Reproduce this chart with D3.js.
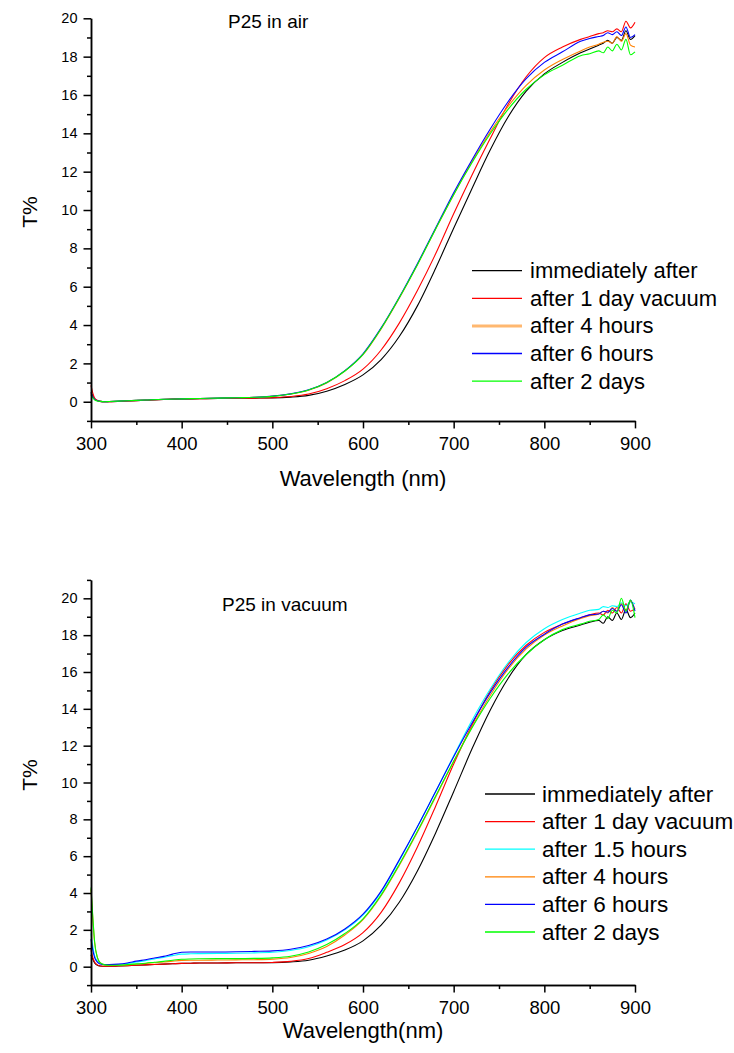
<!DOCTYPE html>
<html>
<head>
<meta charset="utf-8">
<script src="https://cdn.jsdelivr.net/npm/d3@7"></script>
<style>
  html, body { margin: 0; padding: 0; background: #fff; }
  svg { display: block; font-family: "Liberation Sans", Arial, Helvetica, sans-serif; }
</style>
</head>
<body>
<svg id="chart" width="734" height="1053"></svg>
<script>
// ---------- data: top panel (P25 in air) ----------
const wlAir = [300, 302, 304, 307, 310, 315, 320, 340, 360, 380, 400, 420, 440, 460, 480, 500, 520, 540, 560, 580, 600, 620, 640, 660, 680, 700, 720, 740, 760, 780, 800, 820, 840, 850, 860, 865, 870, 875, 880, 885, 890, 895, 900];
const airNames = ["immediately after", "after 1 day vacuum", "after 4 hours", "after 6 hours", "after 2 days"];
const airColors = ["#000000", "#ff0000", "#ff8000", "#0000ff", "#00ff00"];
const airLegendColors = ["#000000", "#ff0000", "#ffb870", "#0000ff", "#00ff00"];
const airImmediately = [0.5, 0.3, 0.15, 0.06, 0.02, 0.0, 0.0, 0.04, 0.08, 0.12, 0.14, 0.16, 0.17, 0.18, 0.19, 0.2, 0.24, 0.33, 0.55, 0.9, 1.4, 2.2, 3.4, 5.0, 6.95, 9.05, 11.1, 13.1, 14.85, 16.2, 17.1, 17.7, 18.2, 18.4, 18.6, 18.7, 18.85, 18.7, 19.0, 18.85, 19.35, 18.9, 19.1];
const airVacuum1d = [0.85, 0.45, 0.2, 0.07, 0.02, 0.0, 0.0, 0.04, 0.08, 0.12, 0.14, 0.16, 0.17, 0.18, 0.19, 0.21, 0.27, 0.4, 0.68, 1.1, 1.7, 2.7, 4.1, 5.8, 7.7, 9.8, 11.8, 13.7, 15.5, 16.95, 17.95, 18.5, 18.9, 19.05, 19.2, 19.25, 19.35, 19.3, 19.45, 19.3, 19.85, 19.5, 19.8];
const air4h = [0.4, 0.25, 0.12, 0.05, 0.02, 0.0, 0.01, 0.05, 0.09, 0.13, 0.15, 0.17, 0.19, 0.21, 0.23, 0.28, 0.4, 0.6, 0.98, 1.6, 2.45, 3.8, 5.4, 7.15, 9.0, 10.8, 12.5, 14.05, 15.4, 16.5, 17.3, 17.85, 18.3, 18.5, 18.65, 18.75, 18.8, 18.7, 19.05, 18.8, 19.2, 18.6, 18.5];
const air6h = [0.45, 0.25, 0.12, 0.05, 0.02, 0.0, 0.01, 0.05, 0.09, 0.13, 0.15, 0.17, 0.19, 0.21, 0.23, 0.29, 0.41, 0.62, 1.0, 1.62, 2.5, 3.85, 5.45, 7.2, 9.05, 10.9, 12.6, 14.2, 15.65, 16.85, 17.7, 18.25, 18.8, 18.95, 19.05, 19.1, 19.25, 19.15, 19.3, 19.1, 19.55, 19.0, 19.15];
const air2d = [0.35, 0.2, 0.1, 0.04, 0.02, 0.0, 0.01, 0.05, 0.09, 0.13, 0.15, 0.17, 0.19, 0.21, 0.23, 0.28, 0.4, 0.61, 1.0, 1.6, 2.47, 3.82, 5.42, 7.15, 9.0, 10.8, 12.45, 13.95, 15.25, 16.3, 17.05, 17.55, 18.05, 18.15, 18.3, 18.2, 18.5, 18.3, 18.65, 18.35, 18.9, 18.1, 18.25];

// ---------- data: bottom panel (P25 in vacuum) ----------
const wlVac = [300, 302, 304, 307, 310, 315, 320, 330, 340, 350, 360, 370, 380, 390, 400, 410, 420, 440, 460, 480, 500, 520, 540, 560, 580, 600, 620, 640, 660, 680, 700, 720, 740, 760, 780, 800, 820, 840, 850, 860, 865, 870, 875, 880, 885, 890, 895, 900];
const vacNames = ["immediately after", "after 1 day vacuum", "after 1.5 hours", "after 4 hours", "after 6 hours", "after 2 days"];
const vacColors = ["#000000", "#ff0000", "#00ffff", "#ff8000", "#0000ff", "#00ff00"];
const vacImmediately = [0.65, 0.4, 0.2, 0.08, 0.04, 0.02, 0.02, 0.04, 0.06, 0.08, 0.1, 0.12, 0.14, 0.16, 0.18, 0.19, 0.2, 0.2, 0.21, 0.21, 0.22, 0.26, 0.35, 0.58, 0.9, 1.4, 2.25, 3.5, 5.2, 7.25, 9.5, 11.8, 13.9, 15.65, 16.95, 17.75, 18.25, 18.55, 18.7, 18.8, 18.65, 19.0, 18.8, 19.2, 18.85, 19.4, 18.95, 19.2];
const vacVacuum1d = [0.9, 0.5, 0.25, 0.1, 0.04, 0.02, 0.02, 0.04, 0.06, 0.08, 0.1, 0.12, 0.14, 0.16, 0.18, 0.19, 0.2, 0.2, 0.21, 0.21, 0.23, 0.29, 0.44, 0.78, 1.2, 1.85, 2.95, 4.55, 6.5, 8.7, 11.0, 13.1, 14.95, 16.4, 17.45, 18.15, 18.6, 18.95, 19.1, 19.2, 19.1, 19.35, 19.2, 19.5, 19.2, 19.7, 19.3, 19.45];
const vac15h = [1.8, 1.1, 0.6, 0.3, 0.18, 0.12, 0.11, 0.12, 0.17, 0.25, 0.33, 0.42, 0.5, 0.6, 0.68, 0.7, 0.71, 0.72, 0.73, 0.75, 0.78, 0.88, 1.08, 1.45, 2.0, 2.8, 4.05, 5.75, 7.6, 9.5, 11.45, 13.35, 15.05, 16.5, 17.6, 18.35, 18.85, 19.2, 19.35, 19.4, 19.55, 19.5, 19.6, 19.55, 19.75, 19.6, 19.8, 19.7];
const vac4h = [4.2, 2.6, 1.3, 0.5, 0.22, 0.1, 0.08, 0.08, 0.1, 0.13, 0.17, 0.21, 0.25, 0.3, 0.34, 0.35, 0.35, 0.36, 0.37, 0.38, 0.41, 0.5, 0.72, 1.1, 1.72, 2.55, 3.85, 5.5, 7.3, 9.2, 11.15, 13.0, 14.7, 16.15, 17.25, 18.0, 18.5, 18.9, 19.05, 19.15, 19.3, 19.2, 19.5, 19.3, 19.7, 19.35, 19.85, 19.4];
const vac6h = [1.5, 0.9, 0.5, 0.25, 0.15, 0.12, 0.12, 0.14, 0.2, 0.3, 0.38, 0.47, 0.56, 0.68, 0.78, 0.8, 0.8, 0.8, 0.81, 0.83, 0.86, 0.95, 1.15, 1.5, 2.05, 2.85, 4.1, 5.8, 7.6, 9.5, 11.4, 13.2, 14.85, 16.25, 17.35, 18.05, 18.6, 18.95, 19.1, 19.15, 19.3, 19.25, 19.45, 19.3, 19.65, 19.2, 19.9, 19.3];
const vac2d = [4.3, 2.7, 1.35, 0.5, 0.22, 0.1, 0.08, 0.08, 0.11, 0.15, 0.19, 0.24, 0.29, 0.35, 0.4, 0.42, 0.43, 0.44, 0.44, 0.45, 0.48, 0.57, 0.8, 1.2, 1.8, 2.6, 3.9, 5.55, 7.35, 9.25, 11.15, 12.95, 14.55, 15.9, 16.95, 17.75, 18.3, 18.6, 18.75, 18.85, 19.1, 18.9, 19.35, 19.2, 20.0, 19.3, 19.9, 18.95];

// ---------- axis tick values ----------
const xMajorTicks = [300, 400, 500, 600, 700, 800, 900];
const xMinorTicks = [350, 450, 550, 650, 750, 850];
const yMajorTicks = [0, 2, 4, 6, 8, 10, 12, 14, 16, 18, 20];
const yMinorAir = [-1, 1, 3, 5, 7, 9, 11, 13, 15, 17, 19];
const yMinorVac = [-1, 1, 3, 5, 7, 9, 11, 13, 15, 17, 19, 21];

const svg = d3.select("#chart");

function drawPanel(cfg) {
  const x = d3.scaleLinear().domain([300, 900]).range([91, 635]);
  const y = d3.scaleLinear().domain(cfg.yDomain).range(cfg.yRange);
  const g = svg.append("g");

  const line = d3.line().curve(d3.curveMonotoneX);
  cfg.series.forEach((vals, i) => {
    const pts = cfg.wl.map((w, k) => [x(w), y(vals[k])]);
    g.append("path")
      .attr("d", line(pts))
      .attr("fill", "none")
      .attr("stroke", cfg.colors[i])
      .attr("stroke-width", 1.1)
      .attr("stroke-linejoin", "round");
  });

  const axisStroke = (sel) => {
    sel.selectAll("path.domain").attr("stroke", "#000").attr("stroke-width", 1.5);
    sel.selectAll(".tick line").attr("stroke", "#000").attr("stroke-width", 1.5);
  };

  // x axis
  const xAxisY = y(cfg.yDomain[0]);
  const gxMinor = g.append("g").attr("transform", `translate(0,${xAxisY})`)
    .call(d3.axisBottom(x).tickValues(xMinorTicks).tickSize(4).tickSizeOuter(0).tickFormat(""));
  axisStroke(gxMinor);
  const gx = g.append("g").attr("transform", `translate(0,${xAxisY})`)
    .call(d3.axisBottom(x).tickValues(xMajorTicks).tickSize(7.5).tickSizeOuter(0).tickPadding(8).tickFormat(d3.format("d")));
  axisStroke(gx);
  gx.selectAll("text").attr("font-size", 18.5).attr("fill", "#000")
    .attr("font-family", "'Liberation Sans', Arial, sans-serif");

  // y axis
  const gyMinor = g.append("g").attr("transform", `translate(91,0)`)
    .call(d3.axisLeft(y).tickValues(cfg.yMinor).tickSize(4).tickSizeOuter(0).tickFormat(""));
  axisStroke(gyMinor);
  const gy = g.append("g").attr("transform", `translate(91,0)`)
    .call(d3.axisLeft(y).tickValues(yMajorTicks).tickSize(7.5).tickSizeOuter(0).tickPadding(6).tickFormat(d3.format("d")));
  axisStroke(gy);
  gy.selectAll("text").attr("font-size", 14.5).attr("fill", "#000")
    .attr("font-family", "'Liberation Sans', Arial, sans-serif");

  // titles
  g.append("text").attr("x", cfg.titleX).attr("y", cfg.titleY)
    .attr("font-size", 19).text(cfg.title);
  g.append("text").attr("x", 363).attr("y", cfg.xLabelY)
    .attr("text-anchor", "middle").attr("font-size", 22).text(cfg.xLabel);
  g.append("text")
    .attr("transform", `translate(37,${cfg.yLabelY}) rotate(-90)`)
    .attr("text-anchor", "middle").attr("font-size", 21).text("T%");

  // legend
  const lg = g.append("g");
  cfg.names.forEach((name, i) => {
    const ly = cfg.legY + i * 27.6;
    lg.append("line")
      .attr("x1", cfg.legX).attr("x2", cfg.legX + 50)
      .attr("y1", ly).attr("y2", ly)
      .attr("stroke", cfg.legendColors[i])
      .attr("stroke-width", cfg.legendWidths[i]);
    lg.append("text")
      .attr("x", cfg.legX + cfg.legTextOffset).attr("y", ly + 7.5)
      .attr("font-size", cfg.legFont).text(name);
  });
}

drawPanel({
  wl: wlAir,
  series: [airImmediately, airVacuum1d, air4h, air6h, air2d],
  names: airNames,
  colors: airColors,
  legendColors: airLegendColors,
  legendWidths: [1.3, 1.3, 3, 1.3, 1.3],
  yDomain: [-1, 20],
  yRange: [420.9, 18.3],
  yMinor: yMinorAir,
  title: "P25 in air", titleX: 228, titleY: 28,
  xLabel: "Wavelength (nm)", xLabelY: 486,
  yLabelY: 212,
  legX: 472, legY: 270.7, legTextOffset: 58, legFont: 22
});

drawPanel({
  wl: wlVac,
  series: [vacImmediately, vacVacuum1d, vac15h, vac4h, vac6h, vac2d],
  names: vacNames,
  colors: vacColors,
  legendColors: vacColors,
  legendWidths: [1.3, 1.3, 1.3, 1.3, 1.3, 1.3],
  yDomain: [-1, 21],
  yRange: [985.1, 579.9],
  yMinor: yMinorVac,
  title: "P25 in vacuum", titleX: 222, titleY: 611,
  xLabel: "Wavelength(nm)", xLabelY: 1038,
  yLabelY: 775,
  legX: 485, legY: 794, legTextOffset: 57, legFont: 22.5
});
</script>
</body>
</html>
